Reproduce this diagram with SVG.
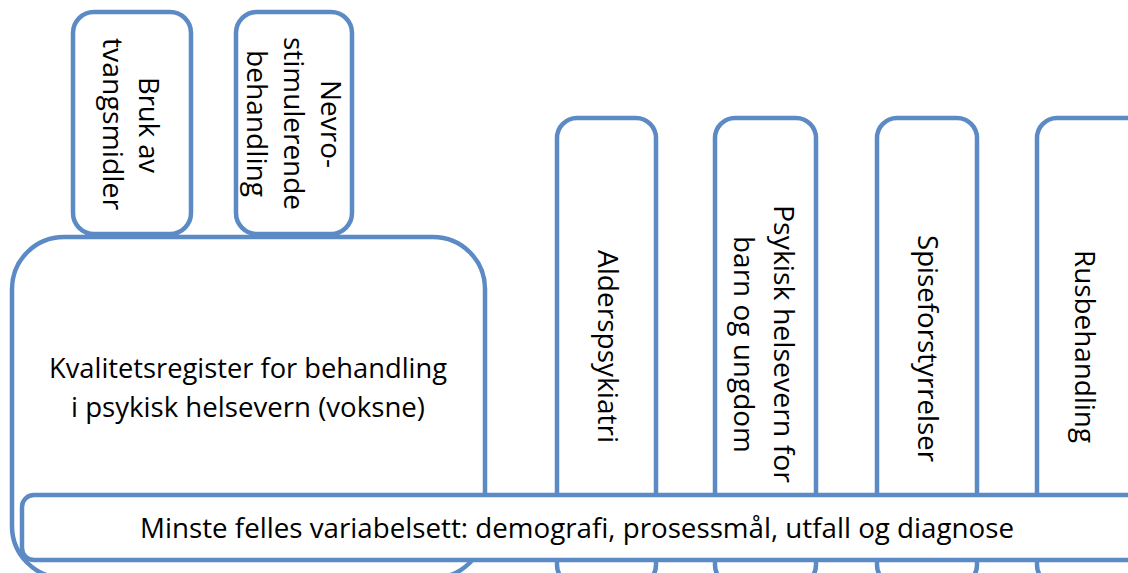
<svg xmlns="http://www.w3.org/2000/svg" width="1128" height="573" viewBox="0 0 1128 573">
  <style>
    .box { fill: #ffffff; stroke: #5B8AC5; stroke-width: 4.5; }
    .t { font-family: "Open Sans", "Liberation Sans", sans-serif; font-size: 27px; fill: #000000; text-anchor: middle; }
  </style>
  <rect width="1128" height="573" fill="#ffffff"/>
  <g id="connectors"></g>

  <g id="node-bruk">
    <rect class="box" x="73" y="12" width="118" height="222" rx="21"/>
    <text class="t" transform="translate(139,125) rotate(90)" textLength="96" lengthAdjust="spacingAndGlyphs">Bruk av</text>
    <text class="t" transform="translate(103,124) rotate(90)" textLength="172" lengthAdjust="spacingAndGlyphs">tvangsmidler</text>
  </g>

  <g id="node-nevro">
    <rect class="box" x="236" y="12" width="116" height="222" rx="21"/>
    <text class="t" transform="translate(321,124) rotate(90)" textLength="88" lengthAdjust="spacingAndGlyphs">Nevro-</text>
    <text class="t" transform="translate(284,123.5) rotate(90)" textLength="173" lengthAdjust="spacingAndGlyphs">stimulerende</text>
    <text class="t" transform="translate(247,123.5) rotate(90)" textLength="147" lengthAdjust="spacingAndGlyphs">behandling</text>
  </g>

  <g id="node-voksne">
    <rect class="box" x="12" y="237" width="473" height="341" rx="52"/>
    <text class="t" x="248" y="378" textLength="398" lengthAdjust="spacingAndGlyphs">Kvalitetsregister for behandling</text>
    <text class="t" x="248" y="417" textLength="354" lengthAdjust="spacingAndGlyphs">i psykisk helsevern (voksne)</text>
  </g>

  <g id="node-alders">
    <rect class="box" x="557" y="118" width="99" height="467" rx="20"/>
    <text class="t" transform="translate(598,346.5) rotate(90)" textLength="193" lengthAdjust="spacingAndGlyphs">Alderspsykiatri</text>
  </g>

  <g id="node-bup">
    <rect class="box" x="715" y="118" width="101" height="467" rx="20"/>
    <text class="t" transform="translate(774,344) rotate(90)" textLength="278" lengthAdjust="spacingAndGlyphs">Psykisk helsevern for</text>
    <text class="t" transform="translate(734,344.5) rotate(90)" textLength="217" lengthAdjust="spacingAndGlyphs">barn og ungdom</text>
  </g>

  <g id="node-spise">
    <rect class="box" x="877" y="118" width="100" height="467" rx="20"/>
    <text class="t" transform="translate(918,348.5) rotate(90)" textLength="227" lengthAdjust="spacingAndGlyphs">Spiseforstyrrelser</text>
  </g>

  <g id="node-rus">
    <rect class="box" x="1037" y="118" width="110" height="467" rx="20"/>
    <text class="t" transform="translate(1075,346.5) rotate(90)" textLength="193" lengthAdjust="spacingAndGlyphs">Rusbehandling</text>
  </g>

  <g id="node-felles">
    <rect class="box" x="22" y="495" width="1130" height="65" rx="12"/>
    <text class="t" x="577" y="538" textLength="874" lengthAdjust="spacingAndGlyphs">Minste felles variabelsett: demografi, prosessmål, utfall og diagnose</text>
  </g>
</svg>
